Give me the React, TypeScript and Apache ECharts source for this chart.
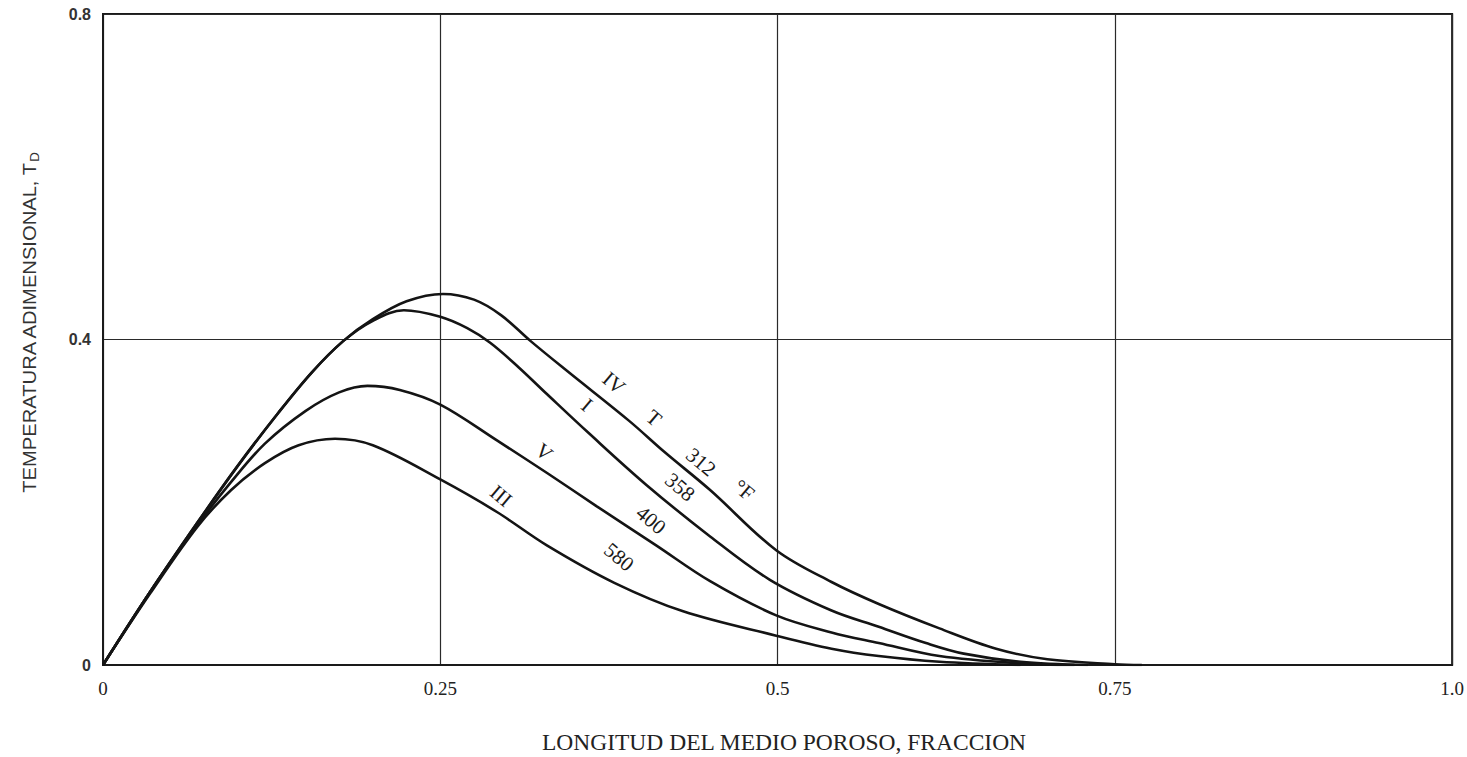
import React, { useEffect, useRef } from "react";
import * as echarts from "echarts";

const xTicks = [0, 0.25, 0.5, 0.75, 1.0];
const xTickLabels = ["0", "0.25", "0.5", "0.75", "1.0"];
const yTickLabels = ["0", "0.4", "0.8"];

const curveIV: [number, number][] = [
  [0, 0], [0.035, 0.09], [0.07, 0.175], [0.1, 0.245], [0.13, 0.31], [0.155, 0.36],
  [0.178, 0.398], [0.2, 0.425], [0.225, 0.447], [0.252, 0.456], [0.275, 0.449],
  [0.295, 0.43], [0.317, 0.398], [0.345, 0.36], [0.39, 0.3], [0.416, 0.262],
  [0.45, 0.215], [0.499, 0.141], [0.54, 0.102], [0.575, 0.075], [0.62, 0.045],
  [0.662, 0.02], [0.7, 0.007], [0.75, 0.001], [0.77, 0],
];
const curveI: [number, number][] = [
  [0, 0], [0.035, 0.09], [0.07, 0.175], [0.1, 0.245], [0.13, 0.31], [0.155, 0.36],
  [0.178, 0.398], [0.2, 0.423], [0.223, 0.436], [0.25, 0.428], [0.27, 0.414],
  [0.287, 0.396], [0.308, 0.366], [0.329, 0.333], [0.36, 0.285], [0.403, 0.221],
  [0.45, 0.158], [0.494, 0.105], [0.54, 0.067], [0.575, 0.047], [0.61, 0.027],
  [0.638, 0.014], [0.68, 0.004], [0.73, 0],
];
const curveV: [number, number][] = [
  [0, 0], [0.035, 0.09], [0.07, 0.172], [0.095, 0.225], [0.12, 0.272], [0.15, 0.312],
  [0.175, 0.335], [0.196, 0.343], [0.22, 0.338], [0.25, 0.32], [0.292, 0.276],
  [0.33, 0.235], [0.366, 0.195], [0.41, 0.147], [0.45, 0.103], [0.499, 0.061],
  [0.54, 0.04], [0.575, 0.027], [0.62, 0.011], [0.68, 0.002], [0.72, 0],
];
const curveIII: [number, number][] = [
  [0, 0], [0.035, 0.088], [0.07, 0.17], [0.095, 0.215], [0.12, 0.248], [0.145, 0.27],
  [0.172, 0.278], [0.2, 0.27], [0.25, 0.228], [0.292, 0.188], [0.329, 0.147],
  [0.379, 0.101], [0.43, 0.066], [0.499, 0.036], [0.54, 0.02], [0.575, 0.011],
  [0.62, 0.004], [0.68, 0],
];

const seriesNames = ["IV", "I", "V", "III"];
const seriesData = [curveIV, curveI, curveV, curveIII];

const curveLabels: { text: string; x: number; y: number }[] = [
  { text: "IV", x: 614, y: 383 },
  { text: "I", x: 587, y: 405 },
  { text: "T", x: 654, y: 418 },
  { text: "312", x: 701, y: 462 },
  { text: "°F", x: 744, y: 490 },
  { text: "358", x: 680, y: 487 },
  { text: "V", x: 544, y: 452 },
  { text: "400", x: 651, y: 520 },
  { text: "III", x: 501, y: 496 },
  { text: "580", x: 619, y: 557 },
];

export default function App() {
  const ref = useRef<HTMLDivElement>(null);
  useEffect(() => {
    if (!ref.current) return;
    const chart = echarts.init(ref.current, undefined, { renderer: "svg" });
    const serif = "'Liberation Serif', 'DejaVu Serif', serif";
    const sans = "'Liberation Sans', Arial, sans-serif";
    chart.setOption({
      animation: false,
      backgroundColor: "#ffffff",
      grid: {
        left: 103, right: 9, top: 14, bottom: 92,
        show: true, borderColor: "#1a1a1a", borderWidth: 2,
      },
      xAxis: {
        type: "value", min: 0, max: 1, interval: 0.25,
        axisLine: { show: true, lineStyle: { color: "#1a1a1a", width: 2 } },
        axisTick: { show: false },
        splitLine: { show: true, lineStyle: { color: "#2a2a2a", width: 1.2 } },
        axisLabel: {
          color: "#222", fontFamily: serif, fontSize: 19, margin: 14,
          formatter: (v: number) => {
            const i = xTicks.findIndex((t) => Math.abs(t - v) < 1e-6);
            return i >= 0 ? xTickLabels[i] : "";
          },
        },
      },
      yAxis: {
        type: "value", min: 0, max: 0.8, interval: 0.4,
        axisLine: { show: true, lineStyle: { color: "#1a1a1a", width: 2 } },
        axisTick: { show: false },
        splitLine: { show: true, lineStyle: { color: "#2a2a2a", width: 1.2 } },
        axisLabel: {
          color: "#333", fontFamily: sans, fontSize: 16, fontWeight: "bold", margin: 12,
          formatter: (v: number) => yTickLabels[Math.round(v / 0.4)] ?? "",
        },
      },
      series: seriesData.map((d, i) => ({
        name: seriesNames[i],
        type: "line",
        data: d,
        smooth: 0.35,
        showSymbol: false,
        lineStyle: { color: "#141414", width: 2.6 },
        z: 3,
      })),
      graphic: [
        ...curveLabels.map((l) => ({
          type: "text",
          x: l.x, y: l.y,
          rotation: -0.7,
          style: {
            text: l.text, fill: "#1a1a1a", font: `21px ${serif}`,
            align: "center", verticalAlign: "middle",
          },
          z: 10,
        })),
        {
          type: "text",
          x: 30, y: 323,
          rotation: Math.PI / 2,
          scaleX: 1.12,
          style: {
            text: "{m|TEMPERATURA ADIMENSIONAL, T}{s|D}",
            align: "center", verticalAlign: "middle",
            rich: {
              m: { fontFamily: sans, fontSize: 18, fill: "#333" },
              s: { fontFamily: sans, fontSize: 12, fill: "#333", padding: [9, 0, 0, 0] },
            },
          },
        },
        {
          type: "text",
          x: 784, y: 742,
          style: {
            text: "LONGITUD DEL MEDIO POROSO, FRACCION",
            fill: "#222", font: `23.5px ${serif}`,
            align: "center", verticalAlign: "middle",
          },
        },
      ],
    });
    return () => chart.dispose();
  }, []);
  return (
    <div
      ref={ref}
      style={{ position: "fixed", left: 0, top: 0, width: 1467, height: 757, background: "#fff" }}
    />
  );
}
